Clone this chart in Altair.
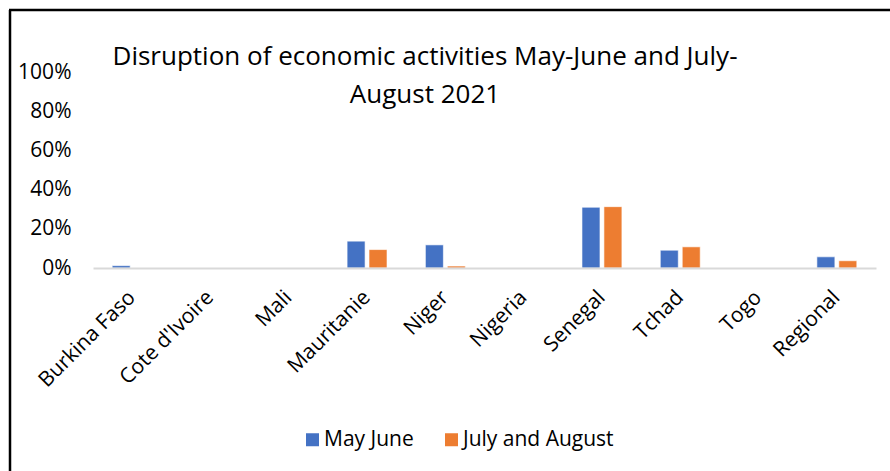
import altair as alt
import pandas as pd

categories = ["Burkina Faso", "Cote d'Ivoire", "Mali", "Mauritanie", "Niger",
              "Nigeria", "Senegal", "Tchad", "Togo", "Regional"]
series_names = ["May June", "July and August"]
may_june = [0.012, 0.0, 0.0, 0.137, 0.118, 0.0, 0.310, 0.091, 0.0, 0.057]
july_aug = [0.0, 0.0, 0.0, 0.094, 0.010, 0.0, 0.313, 0.108, 0.0, 0.037]
colors = ["#4472C4", "#ED7D31"]
y_ticks = [0, 0.2, 0.4, 0.6, 0.8, 1.0]
title_lines = ["Disruption of economic activities May-June and July-", "August 2021"]

rows = []
for i, c in enumerate(categories):
    rows.append({"country": c, "series": series_names[0], "value": may_june[i]})
    rows.append({"country": c, "series": series_names[1], "value": july_aug[i]})
df = pd.DataFrame(rows)

FONT = "Open Sans"
FS = 21

bars = alt.Chart(df).mark_bar(stroke="white", strokeWidth=1, strokeOpacity=0.6).encode(
    x=alt.X("country:N", sort=categories,
            scale=alt.Scale(paddingInner=0.49, paddingOuter=0.245),
            axis=alt.Axis(title=None, labelAngle=-45, labelAlign="right",
                          labelBaseline="middle", labelPadding=26, zindex=1,
                          ticks=False, domainColor="#d9d9d9", domainWidth=2,
                          labelFont=FONT, labelFontSize=FS, labelColor="#000000")),
    xOffset=alt.XOffset("series:N", sort=series_names,
                        scale=alt.Scale(paddingInner=0.18, paddingOuter=0)),
    y=alt.Y("value:Q", scale=alt.Scale(domain=[0, 1]),
            axis=alt.Axis(title=None, values=y_ticks, format=".0%", grid=False,
                          domain=False, ticks=False, labelPadding=22,
                          labelFont=FONT, labelFontSize=FS, labelColor="#000000")),
    color=alt.Color("series:N", sort=series_names,
                    scale=alt.Scale(domain=series_names, range=colors),
                    legend=alt.Legend(title=None, orient="none", legendX=209, legendY=357,
                                      direction="horizontal", symbolType="square",
                                      symbolSize=169, symbolStrokeWidth=0,
                                      labelFont=FONT, labelFontSize=FS, labelColor="#000000",
                                      columnPadding=27, labelOffset=1)),
)

frame_df = pd.DataFrame({"k": [0]})
title_text = alt.Chart(frame_df).mark_text(
    font=FONT, fontSize=26, color="#000000", align="center", baseline="middle",
    lineHeight=38).encode(
    text=alt.value(title_lines), x=alt.value(332), y=alt.value(-15))
left_border = alt.Chart(frame_df).mark_rule(color="#000000", strokeWidth=2.5).encode(
    x=alt.value(-83), y=alt.value(-62), y2=alt.value(420))
top_border = alt.Chart(frame_df).mark_rule(color="#000000", strokeWidth=2.5).encode(
    x=alt.value(-84), x2=alt.value(820), y=alt.value(-62))

chart = alt.layer(bars, title_text, left_border, top_border).properties(
    width=783, height=196,
    background="white",
    autosize=alt.AutoSizeParams(type="none"),
    padding={"left": 93, "top": 72, "right": 14, "bottom": 203},
).configure_view(stroke=None)

chart.save("out.html", embed_options={"renderer": "svg", "actions": False})
